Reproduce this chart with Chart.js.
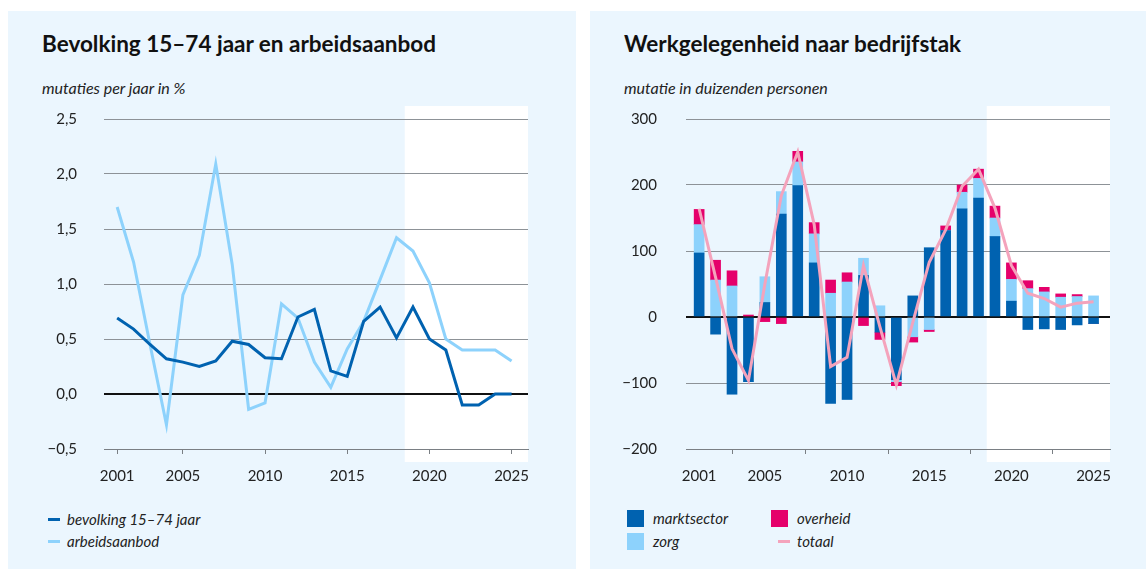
<!DOCTYPE html>
<html lang="nl">
<head>
  <meta charset="UTF-8" />
  <title>Bevolking, arbeidsaanbod en werkgelegenheid</title>
  <script src="https://cdn.jsdelivr.net/npm/chart.js"></script>
  <style>
    body { margin: 0; width: 1146px; height: 569px; overflow: hidden; background: #fff; font-family: Lato, "Noto Sans", sans-serif; color: #111; position: relative; }
    .kaart { position: absolute; top: 11px; bottom: 0; background: #ebf6fe; }
    .titel { position: absolute; font-size: 22.5px; font-weight: 700; line-height: 26px; white-space: nowrap; }
    .sub { position: absolute; font-size: 16px; font-style: italic; line-height: 18px; color: #222; white-space: nowrap; }
    .grafiek { position: absolute; top: 100px; height: 400px; }
    .legenda { position: absolute; font-size: 15px; font-style: italic; color: #222; }
    .item { position: absolute; white-space: nowrap; line-height: 18px; }
    .item i { position: absolute; display: block; }
  </style>
</head>
<body>

  <!-- links: lijnen -->
  <div class="kaart" style="left:8px; width:568px;"></div>
  <div class="titel" style="left:42px; top:31px;">Bevolking 15–74 jaar en arbeidsaanbod</div>
  <div class="sub" style="left:42px; top:79px;">mutaties per jaar in %</div>
  <div class="grafiek" style="left:30px; width:528px;"><canvas id="lijnGrafiek"></canvas></div>
  <div class="legenda" id="legendaLinks"></div>

  <!-- rechts: gestapelde staven -->
  <div class="kaart" style="left:590px; width:556px;"></div>
  <div class="titel" style="left:624px; top:31px;">Werkgelegenheid naar bedrijfstak</div>
  <div class="sub" style="left:624px; top:79px;">mutatie in duizenden personen</div>
  <div class="grafiek" style="left:610px; width:530px;"><canvas id="staafGrafiek"></canvas></div>
  <div class="legenda" id="legendaRechts"></div>

<script>
  // gegevens
  const jaren = [2001, 2002, 2003, 2004, 2005, 2006, 2007, 2008, 2009, 2010, 2011, 2012, 2013,
                 2014, 2015, 2016, 2017, 2018, 2019, 2020, 2021, 2022, 2023, 2024, 2025];
  const jaarTicks = [2001, 2005, 2010, 2015, 2020, 2025];
  const ramingVanaf = 2018.5; // witte vlak = raming

  const bevolking = [0.69, 0.59, 0.45, 0.32, 0.29, 0.25, 0.30, 0.48, 0.45, 0.33, 0.32, 0.70, 0.77,
                     0.21, 0.16, 0.66, 0.79, 0.51, 0.79, 0.50, 0.40, -0.10, -0.10, 0.00, 0.00];
  const arbeidsaanbod = [1.70, 1.20, 0.45, -0.28, 0.90, 1.26, 2.09, 1.18, -0.14, -0.08, 0.82, 0.69, 0.29,
                         0.06, 0.41, 0.66, 1.04, 1.42, 1.30, 1.01, 0.50, 0.40, 0.40, 0.40, 0.30];
  const procentTicks = [-0.5, 0, 0.5, 1, 1.5, 2, 2.5];

  const marktsector = [97, -26, -117, -98, 22, 156, 199, 82, -131, -125, 63, -23, -95,
                       32, 105, 131, 164, 180, 122, 24, -19, -18, -19, -12, -10];
  const zorg = [43, 56, 47, 0, 39, 34, 36, 44, 36, 53, 26, 17, -3,
                -30, -19, 0, 25, 30, 28, 33, 43, 38, 30, 31, 32];
  const overheid = [23, 30, 23, 3, -7, -10, 16, 17, 20, 14, -13, -11, -6,
                    -8, -3, 7, 11, 14, 18, 25, 12, 7, 5, 3, 0];
  const totaal = [164, 60, -48, -96, 50, 184, 250, 140, -75, -61, 78, -15, -103,
                  -8, 83, 132, 198, 224, 165, 78, 36, 28, 15, 21, 23];
  const personenTicks = [-200, -100, 0, 100, 200, 300];

  const namen = { bev: 'bevolking 15–74 jaar', arb: 'arbeidsaanbod',
                  markt: 'marktsector', zorg: 'zorg', overheid: 'overheid', totaal: 'totaal' };
  const kleuren = { donker: '#0062b0', licht: '#8dd2fc', roze: '#e5006b', totaal: '#f4a3bc' };

  Chart.defaults.font.family = "Lato, 'Noto Sans', sans-serif";
  Chart.defaults.font.size = 15;
  Chart.defaults.color = '#222';

  const punten = (waarden) => jaren.map((j, i) => ({ x: j, y: waarden[i] }));
  const minTeken = (s) => s.replace('-', '\u2212');

  // wit vlak voor de ramingsjaren
  const ramingVlak = {
    id: 'ramingVlak',
    beforeDraw(chart) {
      const { ctx, chartArea, scales } = chart;
      const x0 = scales.x.getPixelForValue(ramingVanaf);
      ctx.save();
      ctx.fillStyle = '#ffffff';
      ctx.fillRect(x0, chartArea.top - 13, chartArea.right - x0, chartArea.bottom - chartArea.top + 26);
      ctx.restore();
    }
  };

  function xAs() {
    return {
      type: 'linear', min: 2000.2, max: 2026, offset: false,
      afterBuildTicks: (s) => { s.ticks = jaarTicks.map(v => ({ value: v })); },
      afterFit: (s) => { s.height = 51; },
      ticks: { callback: (v) => String(v), padding: 13, maxRotation: 0, autoSkip: false },
      grid: { drawOnChartArea: false, drawTicks: true, tickLength: 5, color: '#7a7f84' },
      border: { display: true, color: '#7a7f84', width: 1 }
    };
  }

  // afstand label-as via een onzichtbaar tickstreepje (ticks.padding zou de bovenrand verschuiven)
  function yAs(min, max, ticks, breedte, afstand, fmt) {
    return {
      min, max,
      afterBuildTicks: (s) => { s.ticks = ticks.map(v => ({ value: v })); },
      afterFit: (s) => { s.width = breedte; },
      ticks: { callback: fmt, padding: 0 },
      grid: {
        drawTicks: true, tickLength: afstand, tickColor: 'rgba(0,0,0,0)',
        color: (c) => c.tick && c.tick.value === 0 ? '#111' : '#8d9297',
        lineWidth: (c) => c.tick && c.tick.value === 0 ? 2 : 1
      },
      border: { display: false }
    };
  }

  new Chart(document.getElementById('lijnGrafiek'), {
    type: 'line',
    data: {
      datasets: [
        { label: namen.bev, data: punten(bevolking), borderColor: kleuren.donker, borderWidth: 3, pointRadius: 0 },
        { label: namen.arb, data: punten(arbeidsaanbod), borderColor: kleuren.licht, borderWidth: 3, pointRadius: 0 }
      ]
    },
    options: {
      responsive: true, maintainAspectRatio: false, animation: false,
      layout: { padding: { top: 19, right: 30, bottom: 0, left: 0 } },
      plugins: { legend: { display: false }, tooltip: { enabled: false } },
      scales: {
        x: xAs(),
        y: yAs(-0.5, 2.5, procentTicks, 74, 27, (v) => minTeken(v.toFixed(1).replace('.', ',')))
      }
    },
    plugins: [ramingVlak]
  });

  const staaf = (label, waarden, kleur) => ({
    type: 'bar', label, data: punten(waarden), backgroundColor: kleur,
    barThickness: 10, stack: 'sector', order: 1
  });

  new Chart(document.getElementById('staafGrafiek'), {
    data: {
      datasets: [
        { type: 'line', label: namen.totaal, data: punten(totaal), borderColor: kleuren.totaal,
          borderWidth: 3, pointRadius: 0, stack: 'totaal', order: 0 },
        staaf(namen.markt, marktsector, kleuren.donker),
        staaf(namen.zorg, zorg, kleuren.licht),
        staaf(namen.overheid, overheid, kleuren.roze)
      ]
    },
    options: {
      responsive: true, maintainAspectRatio: false, animation: false,
      layout: { padding: { top: 19, right: 30, bottom: 0, left: 0 } },
      plugins: { legend: { display: false }, tooltip: { enabled: false } },
      scales: {
        x: Object.assign(xAs(), { stacked: true }),
        y: Object.assign(yAs(-200, 300, personenTicks, 76, 29, (v) => minTeken(String(v))), { stacked: true })
      }
    },
    plugins: [ramingVlak]
  });

  // legenda's
  function legenda(id, items) {
    const el = document.getElementById(id);
    items.forEach(it => {
      const d = document.createElement('div');
      d.className = 'item';
      d.style.left = it.x + 'px';
      d.style.top = (it.y - 9) + 'px';
      d.textContent = it.tekst;
      const m = document.createElement('i');
      m.style.background = it.kleur;
      if (it.lijn) {
        m.style.left = '-19px'; m.style.top = '8px'; m.style.width = '12px'; m.style.height = '3px';
      } else {
        m.style.left = '-26px'; m.style.top = '1px'; m.style.width = '17px'; m.style.height = '17px';
      }
      d.appendChild(m);
      el.appendChild(d);
    });
  }

  legenda('legendaLinks', [
    { x: 67, y: 519, tekst: namen.bev, kleur: kleuren.donker, lijn: true },
    { x: 67, y: 541, tekst: namen.arb, kleur: kleuren.licht, lijn: true }
  ]);
  legenda('legendaRechts', [
    { x: 653, y: 518, tekst: namen.markt, kleur: kleuren.donker },
    { x: 653, y: 541, tekst: namen.zorg, kleur: kleuren.licht },
    { x: 797, y: 518, tekst: namen.overheid, kleur: kleuren.roze },
    { x: 797, y: 541, tekst: namen.totaal, kleur: kleuren.totaal, lijn: true }
  ]);
</script>
</body>
</html>
